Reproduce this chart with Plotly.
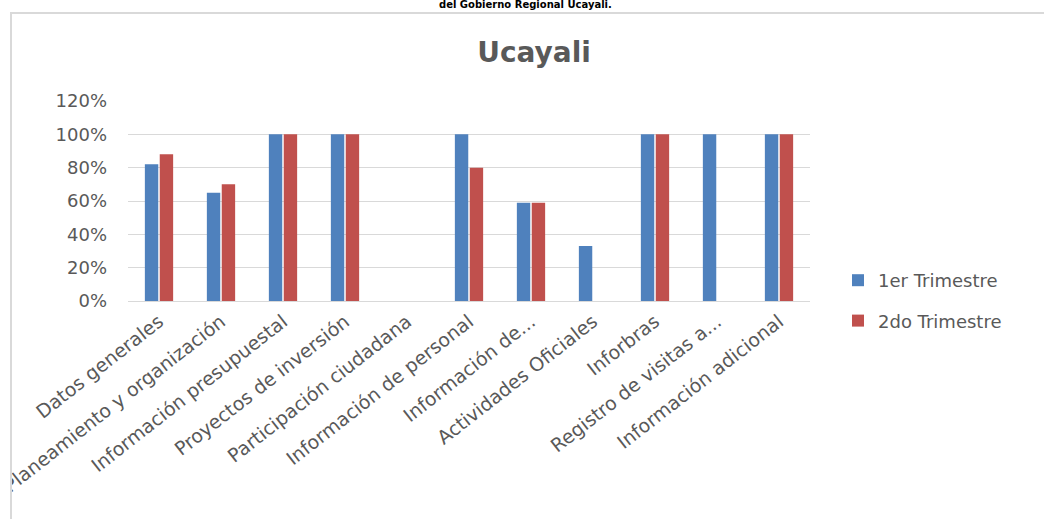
import plotly.graph_objects as go

# Categories and quarterly compliance values (fractions)
categorias = [
    "Datos generales",
    "Planeamiento y organización",
    "Información presupuestal",
    "Proyectos de inversión",
    "Participación ciudadana",
    "Información de personal",
    "Información de...",
    "Actividades Oficiales",
    "Inforbras",
    "Registro de visitas a...",
    "Información adicional",
]
trimestre_1 = [0.82, 0.65, 1.00, 1.00, 0.00, 1.00, 0.59, 0.33, 1.00, 1.00, 1.00]
trimestre_2 = [0.88, 0.70, 1.00, 1.00, 0.00, 0.80, 0.59, 0.00, 1.00, 0.00, 1.00]
series_nombres = ["1er Trimestre", "2do Trimestre"]
y_ticks = [0, 0.2, 0.4, 0.6, 0.8, 1.0, 1.2]
y_tick_text = ["0%", "20%", "40%", "60%", "80%", "100%", "120%"]

W, H = 1044, 519
L, R, T, B = 128, 234, 101, 218
FONT = "DejaVu Sans"
GRIS = "#595959"


def px_x(p):
    return (p - L) / (W - L - R)


def px_y(p):
    return (H - B - p) / (H - T - B)


fig = go.Figure()
fig.add_trace(go.Bar(
    x=categorias, y=trimestre_1, name=series_nombres[0],
    marker=dict(color="#4f81bd", line=dict(width=0)),
    legendgroup="a",
))
fig.add_trace(go.Bar(
    x=categorias, y=trimestre_2, name=series_nombres[1],
    marker=dict(color="#c0504d", line=dict(width=0)),
    legendgroup="b",
))

fig.update_layout(
    width=W, height=H,
    margin=dict(l=L, r=R, t=T, b=B, pad=0),
    paper_bgcolor="white", plot_bgcolor="white",
    barmode="group", bargap=0.52, bargroupgap=0.1,
    font=dict(family=FONT, color=GRIS, size=18),
    title=dict(
        text="<b>Ucayali</b>", font=dict(family=FONT, size=28, color=GRIS),
        xref="container", yref="container", x=534 / W, y=1 - 52 / H,
        xanchor="center", yanchor="middle",
    ),
    legend=dict(
        x=px_x(838), y=px_y(262), xanchor="left", yanchor="top",
        font=dict(family=FONT, size=18, color=GRIS),
        tracegroupgap=14, traceorder="grouped",
        bgcolor="rgba(0,0,0,0)",
    ),
    xaxis=dict(
        tickangle=-38, automargin=False, showgrid=False,
        showline=False, ticks="", ticklabelstandoff=5,
        tickfont=dict(family=FONT, size=19, color=GRIS),
    ),
    yaxis=dict(
        range=[0, 1.2], tickvals=y_ticks, ticktext=y_tick_text,
        showgrid=True, gridcolor="#d9d9d9", gridwidth=1,
        zeroline=True, zerolinecolor="#d9d9d9", zerolinewidth=1,
        showline=False, ticks="", automargin=False,
        ticklabelstandoff=20,
        tickfont=dict(family=FONT, size=18, color=GRIS),
    ),
    shapes=[
        # left mask clipping the long category labels at the frame
        dict(type="rect", xref="paper", yref="paper", layer="above",
             x0=px_x(-5), x1=px_x(11), y0=px_y(-5), y1=px_y(H + 5),
             fillcolor="white", line=dict(width=0)),
        # chart frame
        dict(type="rect", xref="paper", yref="paper", layer="above",
             x0=px_x(11), x1=px_x(W + 20), y0=px_y(13), y1=px_y(H + 20),
             fillcolor="rgba(0,0,0,0)", line=dict(color="#d9d9d9", width=2)),
    ],
    annotations=[
        dict(text="<b>del Gobierno Regional Ucayali.</b>", xref="paper", yref="paper",
             x=px_x(525), y=px_y(12), xanchor="center", yanchor="bottom",
             showarrow=False, font=dict(family=FONT, size=10, color="black")),
    ],
)

fig.write_html("out.html")
